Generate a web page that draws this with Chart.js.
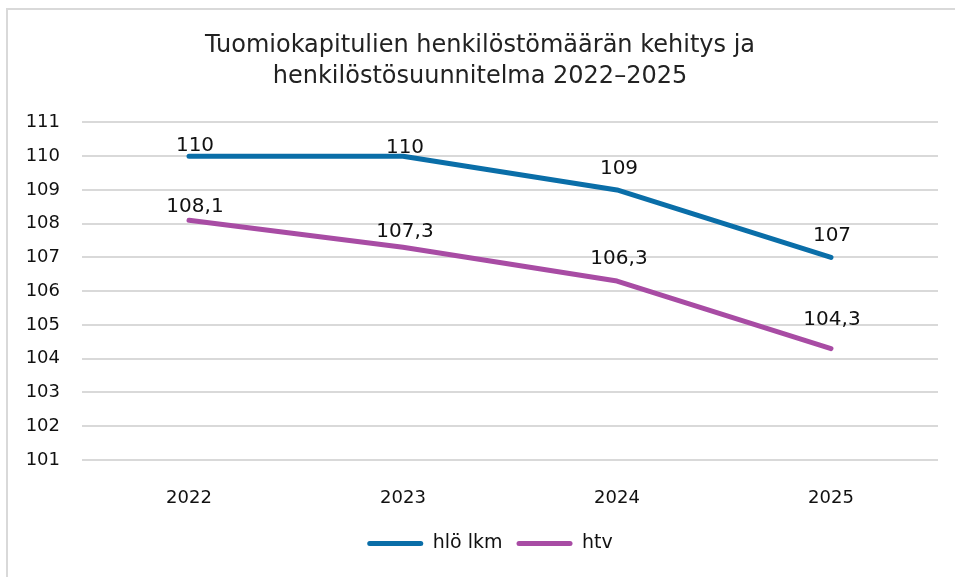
<!DOCTYPE html>
<html>
<head>
<meta charset="utf-8">
<script src="https://cdn.jsdelivr.net/npm/chart.js@4.4.1/dist/chart.umd.min.js"></script>
<style>
  html, body { margin: 0; padding: 0; background: #fff; }
  #wrap { width: 955px; height: 577px; }
</style>
</head>
<body>
<div id="wrap"><canvas id="myChart" width="955" height="577"></canvas></div>
<script>
const years = ['2022', '2023', '2024', '2025'];
const hloLkm = [110, 110, 109, 107];
const htv = [108.1, 107.3, 106.3, 104.3];
const yTicks = [101, 102, 103, 104, 105, 106, 107, 108, 109, 110, 111];

const FONT = "'DejaVu Sans', Verdana, sans-serif";

// border round the chart (open at right and bottom, as in the source)
const frame = {
    id: 'frame',
    beforeDraw(chart) {
        const ctx = chart.ctx;
        ctx.save();
        ctx.strokeStyle = '#d9d9d9';
        ctx.lineWidth = 2;
        ctx.strokeRect(7, 9, 1000, 700);
        ctx.restore();
    },
    // the legend sits a little right of the canvas centre
    afterLayout(chart) {
        if (chart.legend) {
            chart.legend.left += 10;
            chart.legend.right += 10;
        }
    }
};

// value labels above each point
const valueLabels = {
    id: 'valueLabels',
    afterDatasetsDraw(chart, args, opts) {
        const ctx = chart.ctx;
        ctx.save();
        ctx.font = '20px ' + FONT;
        ctx.fillStyle = '#111';
        ctx.textAlign = 'center';
        ctx.textBaseline = 'alphabetic';
        chart.data.datasets.forEach((ds, i) => {
            const meta = chart.getDatasetMeta(i);
            const up = opts.up[i];
            const dx = opts.dx;
            meta.data.forEach((pt, j) => {
                const txt = String(ds.data[j]).replace('.', ',');
                ctx.fillText(txt, pt.x + dx[j], pt.y - up[j] + 7);
            });
        });
        ctx.restore();
    }
};

new Chart(document.getElementById('myChart').getContext('2d'), {
    type: 'line',
    data: {
        labels: years,
        datasets: [
            {
                label: 'hlö lkm',
                data: hloLkm,
                borderColor: '#0a6ea8',
                backgroundColor: '#0a6ea8',
                borderWidth: 5,
                borderCapStyle: 'round',
                borderJoinStyle: 'round',
                pointRadius: 0,
                tension: 0
            },
            {
                label: 'htv',
                data: htv,
                borderColor: '#a84ca4',
                backgroundColor: '#a84ca4',
                borderWidth: 5,
                borderCapStyle: 'round',
                borderJoinStyle: 'round',
                pointRadius: 0,
                tension: 0
            }
        ]
    },
    options: {
        responsive: false,
        animation: false,
        layout: { padding: { left: 22, right: 17, top: 0, bottom: 14 } },
        plugins: {
            title: {
                display: true,
                text: ['Tuomiokapitulien henkilöstömäärän kehitys ja', 'henkilöstösuunnitelma 2022–2025'],
                color: '#222',
                font: { family: FONT, size: 24, weight: 'normal', lineHeight: 1.3 },
                padding: { top: 30, bottom: 30 }
            },
            legend: {
                position: 'bottom',
                labels: {
                    color: '#111',
                    font: { family: FONT, size: 19 },
                    boxWidth: 56,
                    boxHeight: 5,
                    useBorderRadius: true,
                    borderRadius: 2.5,
                    padding: 14,
                    generateLabels(chart) {
                        return Chart.defaults.plugins.legend.labels.generateLabels(chart)
                            .map(l => Object.assign(l, { lineWidth: 0, strokeStyle: l.fillStyle }));
                    }
                }
            },
            tooltip: { enabled: false },
            valueLabels: {
                up: [[12, 10, 23, 23], [15, 17, 24, 31]],
                dx: [6, 2, 2, 1]
            }
        },
        scales: {
            x: {
                offset: true,
                grid: { display: false, drawTicks: false },
                border: { display: false },
                ticks: { color: '#111', font: { family: FONT, size: 18 }, padding: 28 },
                afterFit(scale) { scale.height = 60; }
            },
            y: {
                min: 101,
                max: 111,
                afterBuildTicks(scale) { scale.ticks = yTicks.map(v => ({ value: v })); },
                grid: { color: '#d9d9d9', lineWidth: 2, drawTicks: false },
                border: { display: false },
                ticks: { color: '#111', font: { family: FONT, size: 18 }, padding: 22 },
                afterFit(scale) { scale.width = 60; }
            }
        }
    },
    plugins: [frame, valueLabels]
});
</script>
</body>
</html>
